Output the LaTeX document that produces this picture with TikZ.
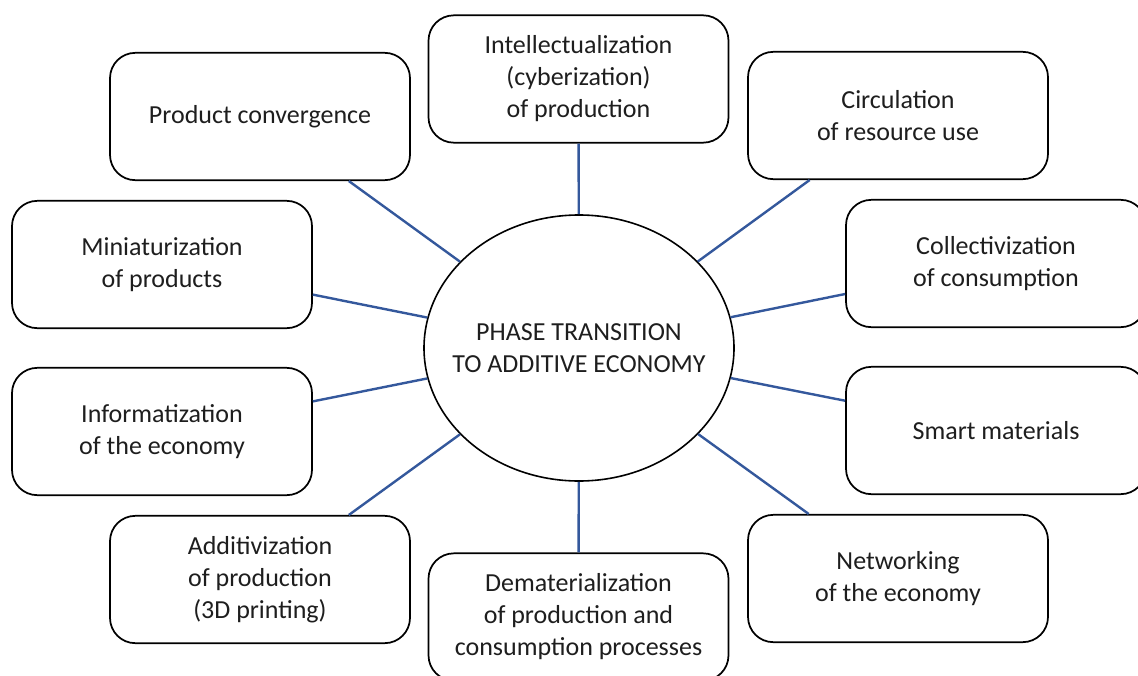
\documentclass[tikz,border=0pt]{standalone}
\usepackage{fontspec}
\setmainfont{Carlito}
\usetikzlibrary{shapes.geometric}
\definecolor{linkblue}{RGB}{52,88,156}
\definecolor{textgray}{RGB}{30,30,30}
\begin{document}
\begin{tikzpicture}[x=0.75pt,y=-0.75pt,
  box/.style={draw=black,line width=1.3pt,rounded corners=19pt,fill=white,
    minimum width=225pt,minimum height=95.5pt,align=center,inner sep=0pt,
    text=textgray,font=\fontsize{19.5}{24}\selectfont},
  hub/.style={draw=black,ellipse,line width=1.2pt,fill=white,
    minimum width=232.5pt,minimum height=199.5pt,inner sep=0pt},
  hubtext/.style={align=center,inner sep=0pt,text=textgray,
    font=\fontsize{19.5}{24}\selectfont},
  link/.style={draw=linkblue,line width=1.8pt}]
\useasboundingbox (0,0) rectangle (1138,675);
\node[box] (ip) at (578.5,79) {Intellectualization\\(cyberization)\\of production};
\node[box] (pc) at (260,116.5) {Product convergence};
\node[box] (cr) at (898,115.5) {Circulation\\of resource use};
\node[box] (mp) at (162,264.5) {Miniaturization\\of products};
\node[box] (cc) at (996,263.5) {Collectivization\\of consumption};
\node[box] (ie) at (162,431.5) {Informatization\\of the economy};
\node[box] (sm) at (996,430.5) {Smart materials};
\node[box] (ap) at (260,579.5) {Additivization\\of production\\(3D printing)};
\node[box] (dm) at (578.5,617) {Dematerialization\\of production and\\consumption processes};
\node[box] (ne) at (898,578.5) {Networking\\of the economy};
\node[hub] (h) at (579,348) {};
\node[hubtext] (ht) at (h) {PHASE TRANSITION\\TO ADDITIVE ECONOMY};
\foreach \n in {ip,pc,cr,mp,cc,ie,sm,ap,dm,ne} \draw[link] (h) -- (\n);
\end{tikzpicture}
\end{document}
